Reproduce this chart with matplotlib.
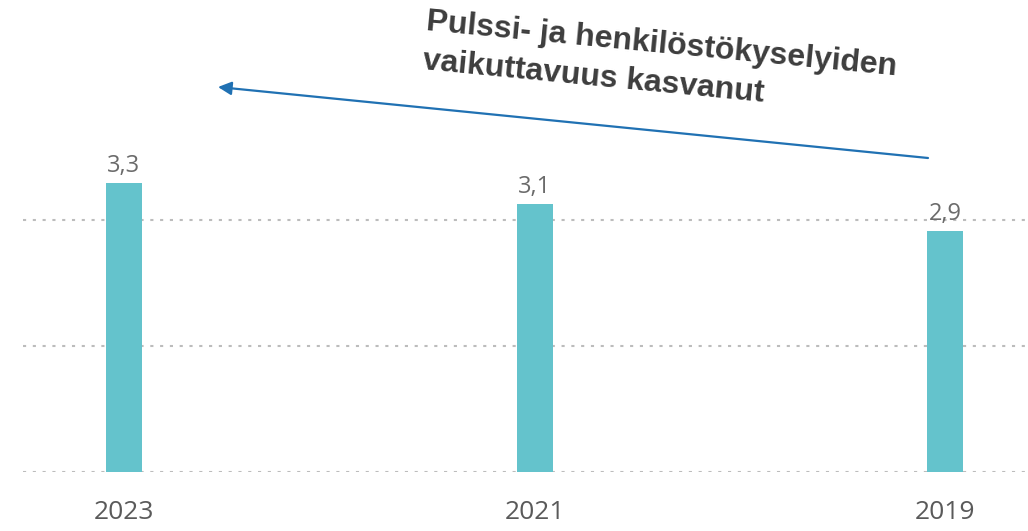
import matplotlib
matplotlib.use("Agg")
import matplotlib.pyplot as plt

# Data
years = ["2023", "2021", "2019"]
values = [3.29, 3.13, 2.91]
labels = ["3,3", "3,1", "2,9"]
grid_values = [1, 2, 3]
annotation = "Pulssi- ja henkilöstökyselyiden\nvaikuttavuus kasvanut"

W, H = 1028, 531
fig = plt.figure(figsize=(W / 100, H / 100), dpi=100)
fig.patch.set_facecolor("white")

# axes: spans x 23..1025 px, y bottom at 472 px, top at 0
left_px, right_px, base_px = 23, 1025, 472
ax = fig.add_axes([left_px / W, (H - base_px) / H, (right_px - left_px) / W, base_px / H])
ax.set_facecolor("none")

xs = list(range(len(years)))
spacing = 410.5
ax.set_xlim(-(124 - left_px) / spacing, 2 + (right_px - 945) / spacing)
px_per_unit = 126
ax.set_ylim(1, 1 + base_px / px_per_unit)

for g in grid_values:
    ax.axhline(g, color="#bcbcbc", lw=1.5, linestyle=(0, (1.5, 3.2)), zorder=1)

bars = ax.bar(xs, [v - 1 for v in values], bottom=1, width=36 / spacing,
              color="#64C3CC", zorder=2)

for x, v, lab in zip(xs, values, labels):
    ax.annotate(lab, (x, v), xytext=(0, 8), textcoords="offset points",
                ha="center", va="baseline", fontsize=17, color="#6b6b6b",
                family="Open Sans")

ax.set_xticks(xs)
ax.set_xticklabels(years, fontsize=19, color="#5a5a5a", family="Open Sans")
ax.tick_params(axis="x", length=0, pad=20)
ax.set_yticks([])
for s in ax.spines.values():
    s.set_visible(False)

# arrow
ax.annotate("", xy=(218, H - 87), xytext=(928, H - 158),
            xycoords="figure pixels", textcoords="figure pixels",
            arrowprops=dict(arrowstyle="-|>", color="#2071B3", lw=1.6,
                            mutation_scale=20, shrinkA=0, shrinkB=0))

fig.text(428 / W, 1 - 7 / H, annotation, ha="left", va="top",
         rotation=-5.5, rotation_mode="anchor", fontsize=23,
         fontweight="bold", color="#3d3d3d", family="Liberation Sans",
         linespacing=1.4)

fig.savefig("out.png", dpi=100)
